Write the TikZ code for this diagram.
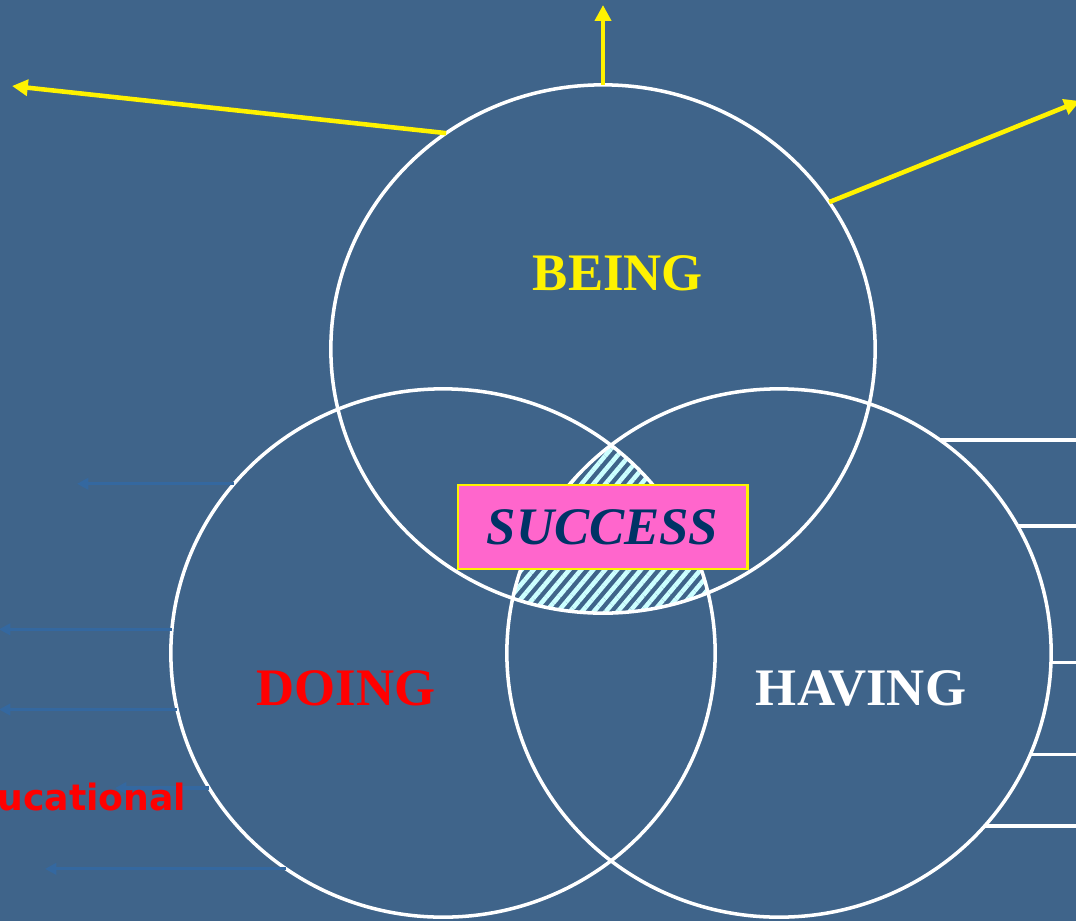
\documentclass[tikz,border=0pt]{standalone}
\usepackage{fontspec}
\setmainfont{Liberation Serif}
\newfontfamily\labelsans{DejaVu Sans}
\usetikzlibrary{shapes.geometric,arrows.meta,patterns.meta}
\definecolor{slate}{HTML}{3F648A}
\definecolor{pinkbox}{HTML}{FF66CC}
\definecolor{navy}{HTML}{003366}
\definecolor{hatch}{HTML}{CCFFFF}
\definecolor{pointerblue}{HTML}{3468A0}

\begin{document}
\begin{tikzpicture}[x=0.01cm, y=-0.01cm,
    ring/.style = {draw=white, line width=1pt, ellipse, inner sep=0pt, outer sep=0pt, minimum width=5.44cm, minimum height=5.28cm},
    word/.style = {font=\fontsize{15}{18}\selectfont\bfseries, inner sep=0pt},
    ray/.style = {draw=yellow, line width=1.3pt, -{Triangle[length=4.5pt,width=4.5pt]}},
    pointer/.style = {draw=pointerblue, line width=0.9pt, -{Triangle[length=3.2pt,width=3.2pt]}},
    spoke/.style = {draw=white, line width=1pt}]
    \useasboundingbox (0,0) rectangle (1076,921);
    \clip (0,0) rectangle (1076,921);
    \fill[slate] (0,0) rectangle (1076,921);
    % hatched overlap of the three rings
    \begin{scope}
        \clip (603,349) ellipse [x radius=272, y radius=264];
        \clip (443,653) ellipse [x radius=272, y radius=264];
        \clip (779,653) ellipse [x radius=272, y radius=264];
        \fill[pattern={Lines[angle=50,distance=2.6pt,line width=1.3pt]}, pattern color=hatch] (0,0) rectangle (1076,921);
    \end{scope}
    \node[ring] (being) at (603,349) {};
    \node[ring] (doing) at (443,653) {};
    \node[ring] (having) at (779,653) {};
    % free ends
    \coordinate (rayL) at (12,86);
    \coordinate (rayT) at (603,5);
    \coordinate (rayR) at (1080,101);
    \draw[ray] (being.126.3) -- (rayL);
    \draw[ray] (being.north) -- (rayT);
    \draw[ray] (being.33.5) -- (rayR);
    \coordinate (p1) at (77,0);
    \coordinate (p2) at (-1,0);
    \coordinate (p4) at (115,0);
    \coordinate (p5) at (45,0);
    \draw[pointer] (doing.141.3) -- (doing.141.3 -| p1);
    \draw[pointer] (doing.175) -- (doing.175 -| p2);
    \draw[pointer] (doing.192.5) -- (doing.192.5 -| p2);
    \draw[pointer] (doing.210) -- (doing.210 -| p4);
    \draw[pointer] (doing.234.2) -- (doing.234.2 -| p5);
    \coordinate (edge) at (1076,0);
    \draw[spoke] (having.53.7) -- (having.53.7 -| edge);
    \draw[spoke] (having.28.7) -- (having.28.7 -| edge);
    \draw[spoke] (having.-2.6) -- (having.-2.6 -| edge);
    \draw[spoke] (having.-22) -- (having.-22 -| edge);
    \draw[spoke] (having.-40.4) -- (having.-40.4 -| edge);
    \node[word, text=yellow] (beingtxt) at (618,273) {BEING};
    \node[word, text=red] (doingtxt) at (346,688) {DOING};
    \node[word, text=white] (havingtxt) at (861,688) {HAVING};
    \node[fill=pinkbox, draw=yellow, line width=0.8pt, minimum width=2.89cm, minimum height=0.84cm, inner sep=0pt,
          font=\fontsize{15}{18}\selectfont\bfseries\itshape, text=navy] (success) at (602.5,527) {SUCCESS};
    \node[anchor=base east, inner sep=0pt, text=red, font=\labelsans\bfseries\fontsize{10.3}{12}\selectfont] (edu) at (187,810) {Educational};
\end{tikzpicture}
\end{document}
